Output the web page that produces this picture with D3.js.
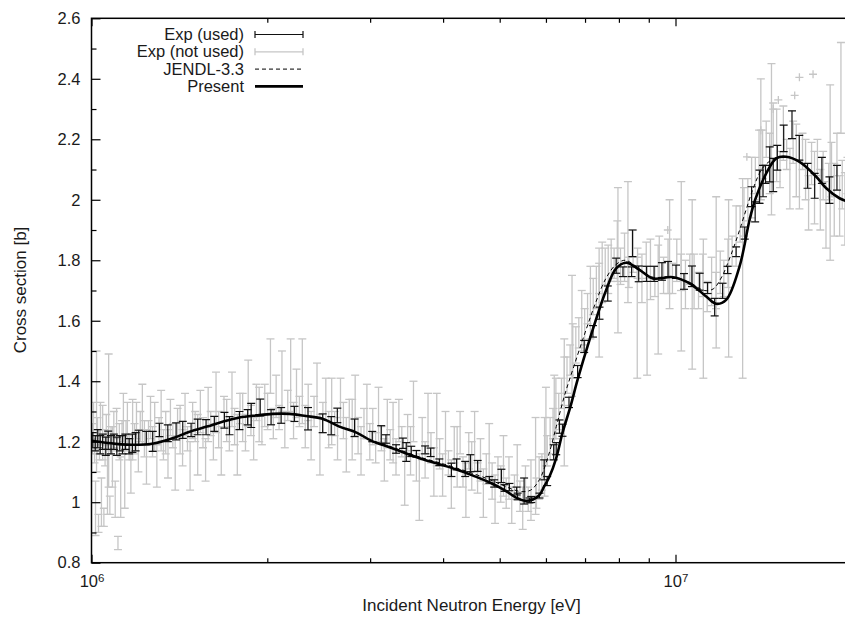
<!DOCTYPE html>
<html>
<head>
<meta charset="utf-8">
<script src="https://cdn.jsdelivr.net/npm/d3@7"></script>
<style>
  html, body { margin: 0; padding: 0; background: #fff; }
  svg { display: block; font-family: "Liberation Sans", Arial, Helvetica, sans-serif; }
</style>
</head>
<body>
<svg id="chart" width="845" height="619"></svg>
<script>
// ---- Axis ticks and labels ----
const yTickValues = [0.8, 1.0, 1.2, 1.4, 1.6, 1.8, 2.0, 2.2, 2.4, 2.6];
const yTickLabels = ["0.8", "1", "1.2", "1.4", "1.6", "1.8", "2", "2.2", "2.4", "2.6"];
const yMinorTicks = [0.9, 1.1, 1.3, 1.5, 1.7, 1.9, 2.1, 2.3, 2.5];
const xMajorTicks = [1e6, 1e7];
const xMajorExponents = ["6", "7"];
const xMinorTicks = [2e6, 3e6, 4e6, 5e6, 6e6, 7e6, 8e6, 9e6, 2e7];

// ---- Evaluated curves (energy in MeV, cross section in b) ----
const presentEnergy = [1.0, 1.1, 1.208, 1.292, 1.38, 1.472, 1.576, 1.676, 1.792, 1.917, 2.043, 2.183, 2.328, 2.486, 2.658, 2.843, 3.03, 3.238, 3.45, 3.694, 3.95, 4.218, 4.5, 4.8, 5.127, 5.333, 5.517, 5.702, 5.849, 5.958, 6.085, 6.248, 6.404, 6.608, 6.798, 7.125, 7.609, 7.914, 8.233, 8.677, 9.145, 9.894, 10.57, 11.29, 11.74, 12.21, 12.87, 13.39, 13.69, 14.30, 14.88, 15.47, 16.31, 17.42, 18.12, 19.09, 20.0];
const presentSigma = [1.203, 1.193, 1.190, 1.196, 1.212, 1.233, 1.250, 1.266, 1.280, 1.287, 1.292, 1.292, 1.285, 1.276, 1.250, 1.230, 1.201, 1.182, 1.162, 1.142, 1.125, 1.108, 1.088, 1.066, 1.037, 1.015, 1.005, 1.009, 1.024, 1.052, 1.085, 1.146, 1.229, 1.316, 1.405, 1.537, 1.702, 1.773, 1.792, 1.768, 1.740, 1.744, 1.724, 1.680, 1.656, 1.669, 1.779, 1.933, 2.000, 2.087, 2.137, 2.142, 2.125, 2.076, 2.038, 2.005, 1.990];

const jendlEnergy = [1.0, 1.1, 1.208, 1.292, 1.38, 1.472, 1.576, 1.676, 1.792, 1.917, 2.043, 2.183, 2.328, 2.486, 2.658, 2.843, 3.03, 3.238, 3.45, 3.694, 3.95, 4.218, 4.5, 4.8, 5.05, 5.25, 5.45, 5.65, 5.85, 6.05, 6.25, 6.45, 6.7, 7.0, 7.3, 7.6, 7.9, 8.2, 8.6, 9.1, 9.9, 10.6, 11.2, 11.6, 12.0, 12.4, 12.8, 13.2, 13.6, 14.1, 14.8, 15.5, 16.31, 17.42, 18.12, 19.09, 20.0];
const jendlSigma = [1.203, 1.193, 1.190, 1.196, 1.212, 1.233, 1.250, 1.266, 1.280, 1.287, 1.292, 1.292, 1.285, 1.276, 1.250, 1.230, 1.203, 1.185, 1.166, 1.146, 1.130, 1.113, 1.095, 1.075, 1.057, 1.043, 1.035, 1.040, 1.075, 1.150, 1.250, 1.350, 1.450, 1.560, 1.660, 1.740, 1.785, 1.800, 1.777, 1.745, 1.745, 1.725, 1.700, 1.705, 1.745, 1.810, 1.885, 1.965, 2.040, 2.105, 2.138, 2.142, 2.125, 2.076, 2.038, 2.005, 1.990];

// ---- Experimental data used in the fit: [energy MeV, sigma b, error b] ----
const expUsed = [
  [1.005,1.205,0.025],[1.015,1.195,0.025],[1.025,1.210,0.030],[1.035,1.190,0.030],
  [1.045,1.200,0.025],[1.058,1.185,0.030],[1.068,1.205,0.030],[1.080,1.190,0.030],
  [1.092,1.200,0.025],[1.105,1.185,0.030],[1.118,1.195,0.025],[1.130,1.190,0.030],
  [1.143,1.200,0.025],[1.160,1.185,0.025],[1.175,1.195,0.030],[1.190,1.200,0.030],
  [1.205,1.214,0.024],[1.241,1.212,0.022],[1.273,1.201,0.033],[1.307,1.239,0.022],
  [1.351,1.228,0.028],[1.396,1.234,0.028],[1.433,1.239,0.028],[1.481,1.239,0.022],
  [1.520,1.249,0.026],[1.571,1.248,0.025],[1.623,1.259,0.025],[1.689,1.271,0.026],
  [1.723,1.253,0.030],[1.792,1.270,0.030],[1.851,1.281,0.025],[1.877,1.287,0.040],
  [1.945,1.313,0.028],[2.030,1.281,0.025],[2.112,1.287,0.026],[2.226,1.292,0.025],
  [2.348,1.276,0.037],[2.488,1.261,0.031],[2.573,1.253,0.030],[2.636,1.287,0.024],
  [2.821,1.246,0.029],[3.025,1.217,0.017],[3.134,1.224,0.029],[3.193,1.209,0.014],
  [3.323,1.176,0.014],[3.414,1.195,0.017],[3.459,1.166,0.031],[3.528,1.168,0.017],
  [3.600,1.160,0.011],[3.726,1.173,0.013],[3.808,1.165,0.014],[3.941,1.132,0.011],
  [4.133,1.107,0.022],[4.218,1.125,0.018],[4.364,1.110,0.025],[4.454,1.129,0.028],
  [4.584,1.120,0.018],[4.800,1.074,0.011],[4.892,1.062,0.012],[5.034,1.087,0.022],
  [5.097,1.047,0.011],[5.195,1.050,0.012],[5.345,1.037,0.013],[5.366,1.019,0.011],
  [5.505,1.037,0.043],[5.623,1.006,0.008],[5.662,1.009,0.010],[5.849,1.022,0.008],
  [5.958,1.107,0.033],[6.029,1.070,0.015],[6.186,1.165,0.025],[6.248,1.177,0.020],
  [6.329,1.250,0.022],[6.404,1.238,0.020],[6.571,1.330,0.017],[6.798,1.432,0.020],
  [6.976,1.515,0.020],[7.222,1.565,0.019],[7.411,1.625,0.020],[7.656,1.690,0.025],
  [7.914,1.782,0.025],[8.130,1.762,0.016],[8.410,1.762,0.016],[8.440,1.856,0.044],
  [8.650,1.755,0.026],[8.920,1.755,0.025],[9.190,1.755,0.025],[9.480,1.763,0.029],
  [9.710,1.770,0.026],[10.02,1.762,0.022],[10.34,1.730,0.026],[10.67,1.747,0.034],
  [11.00,1.729,0.028],[11.35,1.708,0.018],[11.67,1.645,0.029],[12.04,1.699,0.025],
  [12.28,1.768,0.012],[12.70,1.828,0.016],[13.14,1.890,0.020],[13.50,2.010,0.033],
  [13.69,1.960,0.033],[13.93,2.043,0.055],[14.12,2.062,0.052],[14.26,2.084,0.030],
  [14.50,2.117,0.058],[14.70,2.082,0.055],[14.94,2.139,0.041],[15.32,2.203,0.044],
  [15.83,2.248,0.046],[16.29,2.172,0.041],[16.83,2.079,0.041],[17.31,2.046,0.041],
  [17.81,2.097,0.043],[18.35,2.032,0.044],[18.90,2.073,0.041]
];

// ---- Experimental data not used in the fit: [energy MeV, sigma b, error b] ----
const expNotUsed = [
  [1.003,1.21,0.05],[1.008,1.25,0.08],[1.012,1.17,0.04],[1.016,0.98,0.09],[1.020,1.30,0.20],
  [1.024,1.22,0.06],[1.028,0.93,0.03],[1.032,1.19,0.05],[1.036,1.26,0.07],[1.040,1.00,0.08],
  [1.045,1.23,0.09],[1.050,0.95,0.03],[1.055,1.18,0.06],[1.060,1.24,0.05],[1.065,1.06,0.10],
  [1.070,1.27,0.22],[1.075,0.99,0.03],[1.080,1.21,0.04],[1.086,1.15,0.10],[1.092,1.24,0.06],
  [1.098,1.01,0.06],[1.104,1.26,0.05],[1.110,0.865,0.022],[1.116,1.20,0.06],[1.122,1.05,0.10],
  [1.128,1.23,0.04],[1.134,1.28,0.08],[1.140,1.10,0.12],[1.146,1.22,0.05],[1.152,1.26,0.07],
  [1.160,1.18,0.04],[1.168,1.12,0.09],[1.176,1.24,0.10],[1.185,1.21,0.05],[1.194,1.27,0.06],
  [1.203,1.17,0.07],[1.212,1.25,0.05],[1.222,1.29,0.10],[1.232,1.21,0.06],[1.242,1.15,0.09],
  [1.252,1.23,0.04],[1.262,1.28,0.07],[1.272,1.20,0.05],[1.283,1.25,0.08],[1.294,1.12,0.07],
  [1.305,1.24,0.04],[1.316,1.27,0.10],[1.328,1.19,0.05],[1.340,1.23,0.07],[1.352,1.16,0.08],
  [1.365,1.28,0.06],[1.378,1.22,0.04],[1.391,1.13,0.09],[1.404,1.26,0.05],[1.418,1.24,0.08],
  [1.432,1.18,0.06],[1.446,1.29,0.07],[1.460,1.21,0.04],[1.475,1.12,0.08],[1.490,1.27,0.06],
  [1.505,1.25,0.05],[1.520,1.19,0.10],[1.536,1.30,0.07],[1.552,1.23,0.05],[1.568,1.14,0.07],
  [1.584,1.29,0.09],[1.600,1.26,0.04],[1.617,1.20,0.06],[1.634,1.33,0.10],[1.651,1.24,0.06],
  [1.668,1.17,0.08],[1.686,1.30,0.05],[1.704,1.27,0.07],[1.722,1.22,0.05],[1.740,1.34,0.09],
  [1.758,1.25,0.06],[1.777,1.19,0.10],[1.796,1.31,0.05],[1.815,1.28,0.08],[1.835,1.23,0.06],
  [1.855,1.36,0.11],[1.875,1.27,0.05],[1.895,1.21,0.07],[1.916,1.33,0.06],[1.937,1.29,0.09],
  [1.958,1.24,0.05],[1.980,1.32,0.07],[2.002,1.30,0.06],[2.025,1.45,0.09],[2.048,1.26,0.05],
  [2.071,1.35,0.07],[2.095,1.28,0.04],[2.119,1.40,0.10],[2.143,1.24,0.06],[2.168,1.32,0.05],
  [2.193,1.42,0.12],[2.218,1.27,0.06],[2.244,1.36,0.08],[2.270,1.30,0.05],[2.296,1.40,0.14],
  [2.323,1.25,0.07],[2.350,1.33,0.06],[2.377,1.22,0.08],[2.405,1.30,0.05],[2.433,1.37,0.09],
  [2.461,1.19,0.10],[2.490,1.28,0.05],[2.519,1.34,0.07],[2.548,1.24,0.06],[2.578,1.30,0.11],
  [2.608,1.26,0.04],[2.638,1.21,0.07],[2.669,1.33,0.08],[2.700,1.27,0.06],[2.731,1.19,0.09],
  [2.763,1.29,0.05],[2.795,1.24,0.10],[2.828,1.32,0.10],[2.861,1.22,0.06],[2.894,1.17,0.08],
  [2.928,1.26,0.05],[2.962,1.30,0.09],[2.996,1.20,0.06],[3.031,1.25,0.06],[3.066,1.18,0.05],
  [3.101,1.29,0.09],[3.137,1.21,0.04],[3.173,1.14,0.07],[3.210,1.26,0.08],[3.247,1.19,0.05],
  [3.284,1.23,0.10],[3.322,1.15,0.06],[3.360,1.27,0.07],[3.399,1.20,0.05],[3.438,1.08,0.09],
  [3.478,1.23,0.06],[3.518,1.17,0.08],[3.559,1.30,0.10],[3.600,1.12,0.05],[3.642,1.05,0.11],
  [3.684,1.21,0.07],[3.726,1.14,0.06],[3.769,1.26,0.10],[3.813,1.18,0.05],[3.857,1.10,0.08],
  [3.901,1.24,0.12],[3.946,1.16,0.05],[3.992,1.09,0.07],[4.038,1.21,0.09],[4.085,1.13,0.04],
  [4.132,1.06,0.08],[4.180,1.19,0.06],[4.228,1.15,0.10],[4.277,1.23,0.07],[4.326,1.10,0.05],
  [4.376,1.04,0.09],[4.426,1.17,0.06],[4.478,1.12,0.08],[4.529,1.20,0.10],[4.582,1.08,0.05],
  [4.635,1.14,0.07],[4.688,1.03,0.08],[4.742,1.11,0.05],[4.797,1.17,0.09],[4.853,1.07,0.06],
  [4.909,1.01,0.08],[4.966,1.10,0.05],[5.020,1.06,0.06],[5.075,1.12,0.10],[5.130,1.03,0.05],
  [5.186,1.08,0.07],[5.243,0.99,0.06],[5.300,1.05,0.04],[5.358,1.10,0.09],[5.416,1.02,0.05],
  [5.475,0.98,0.07],[5.535,1.06,0.06],[5.595,1.01,0.04],[5.656,1.04,0.10],[5.760,1.12,0.16],
  [5.779,1.03,0.05],[5.842,1.08,0.07],[5.905,1.10,0.06],[5.968,1.15,0.13],[6.000,1.25,0.13],
  [6.030,1.17,0.05],[6.100,1.21,0.07],[6.170,1.26,0.05],[6.200,1.29,0.13],[6.240,1.31,0.10],
  [6.310,1.30,0.06],[6.380,1.36,0.05],[6.450,1.33,0.21],[6.450,1.40,0.08],[6.520,1.42,0.06],
  [6.600,1.47,0.05],[6.650,1.55,0.20],[6.670,1.50,0.09],[6.750,1.52,0.06],[6.830,1.56,0.05],
  [6.910,1.60,0.10],[6.990,1.58,0.06],[7.070,1.64,0.05],[7.150,1.66,0.12],[7.230,1.68,0.06],
  [7.320,1.71,0.07],[7.400,1.66,0.18],[7.400,1.74,0.05],[7.490,1.76,0.10],[7.580,1.78,0.06],
  [7.670,1.77,0.08],[7.760,1.80,0.07],[7.850,1.79,0.05],[7.950,1.83,0.10],[7.970,1.80,0.24],
  [8.050,1.78,0.06],[8.180,1.81,0.08],[8.290,1.86,0.20],[8.320,1.76,0.05],[8.460,1.83,0.07],
  [8.600,1.61,0.20],[8.610,1.79,0.05],[8.760,1.74,0.08],[8.910,1.80,0.06],[8.940,1.60,0.18],
  [9.060,1.77,0.10],[9.220,1.73,0.05],[9.340,1.67,0.18],[9.380,1.81,0.07],[9.540,1.75,0.06],
  [9.710,1.78,0.09],[9.770,1.82,0.18],[9.880,1.74,0.05],[10.05,1.80,0.07],[10.22,1.76,0.06],
  [10.23,1.78,0.28],[10.40,1.72,0.08],[10.58,1.77,0.05],[10.68,1.72,0.28],[10.76,1.73,0.09],
  [10.95,1.70,0.06],[11.14,1.75,0.07],[11.16,1.64,0.23],[11.33,1.68,0.05],[11.53,1.73,0.08],
  [11.73,1.70,0.06],[11.74,1.76,0.25],[11.93,1.76,0.07],[12.10,1.74,0.06],[12.30,1.79,0.08],
  [12.33,1.74,0.26],[12.50,1.83,0.05],[12.70,1.88,0.10],[12.90,1.92,0.06],[13.03,1.74,0.33],
  [13.10,1.96,0.08],[13.30,2.00,0.07],[13.50,2.04,0.10],[13.70,2.08,0.06],[13.90,2.11,0.12],
  [14.00,2.20,0.20],[14.10,2.15,0.08],[14.30,2.20,0.06],[14.50,2.12,0.10],[14.60,2.20,0.25],
  [14.70,2.25,0.07],[14.90,2.18,0.12],[15.10,2.10,0.06],[15.30,2.22,0.09],[15.50,2.15,0.05],
  [15.70,2.07,0.10],[15.90,2.19,0.07],[16.10,2.13,0.12],[16.30,2.05,0.08],[16.50,2.16,0.06],
  [16.70,2.10,0.10],[16.90,1.99,0.09],[17.10,2.12,0.07],[17.30,2.04,0.12],[17.50,2.14,0.06],
  [17.70,2.00,0.10],[17.90,2.08,0.08],[18.10,1.95,0.11],[18.30,2.06,0.06],[18.40,2.09,0.29],
  [18.50,2.10,0.09],[18.70,2.00,0.12],[18.90,2.15,0.07],[19.10,1.98,0.10],[19.20,2.37,0.15],
  [19.30,2.05,0.08],[19.50,1.97,0.12],[19.70,2.08,0.06],[19.90,2.02,0.10]
];

// ---- Not-used points with energy resolution bars: [energy MeV, sigma b, dE MeV, dSigma b] ----
const expNotUsedCross = [
  [9.70,1.900,0.15,0.013],[13.25,2.142,0.20,0.013],[14.00,2.230,0.22,0.013],[14.70,2.300,0.23,0.013],
  [15.00,2.330,0.24,0.013],[16.00,2.345,0.25,0.013],[16.30,2.405,0.26,0.013],[17.20,2.415,0.27,0.013]
];

// ---- Layout ----
const svg = d3.select("#chart");
const plot = { left: 91.5, right: 851.3, top: 18.3, bottom: 562.7 };
const x = d3.scaleLog().domain([1e6, 2e7]).range([plot.left, plot.right]);
const y = d3.scaleLinear().domain([0.8, 2.6]).range([plot.bottom, plot.top]);
const MeV = 1e6;
const textColor = "#1a1a1a";
const grayColor = "#c6c6c6";

svg.append("defs").append("clipPath").attr("id", "plotClip")
  .append("rect")
  .attr("x", plot.left).attr("y", plot.top)
  .attr("width", plot.right - plot.left).attr("height", plot.bottom - plot.top);

const dataLayer = svg.append("g").attr("clip-path", "url(#plotClip)");

// Error bars with horizontal caps
function drawErrorBars(rows, color, width, cap) {
  const g = dataLayer.append("g").attr("stroke", color).attr("stroke-width", width).attr("fill", "none");
  const bars = g.selectAll("g").data(rows).join("g");
  bars.append("line")
    .attr("x1", d => x(d[0] * MeV)).attr("x2", d => x(d[0] * MeV))
    .attr("y1", d => y(d[1] - d[2])).attr("y2", d => y(d[1] + d[2]));
  bars.append("line")
    .attr("x1", d => x(d[0] * MeV) - cap).attr("x2", d => x(d[0] * MeV) + cap)
    .attr("y1", d => y(d[1] + d[2])).attr("y2", d => y(d[1] + d[2]));
  bars.append("line")
    .attr("x1", d => x(d[0] * MeV) - cap).attr("x2", d => x(d[0] * MeV) + cap)
    .attr("y1", d => y(d[1] - d[2])).attr("y2", d => y(d[1] - d[2]));
}

drawErrorBars(expNotUsed, grayColor, 1.3, 4);

// crosses (energy and cross-section error bars)
const crossG = dataLayer.append("g").attr("stroke", grayColor).attr("stroke-width", 1.3);
const crosses = crossG.selectAll("g").data(expNotUsedCross).join("g");
crosses.append("line")
  .attr("x1", d => x((d[0] - d[2]) * MeV)).attr("x2", d => x((d[0] + d[2]) * MeV))
  .attr("y1", d => y(d[1])).attr("y2", d => y(d[1]));
crosses.append("line")
  .attr("x1", d => x(d[0] * MeV)).attr("x2", d => x(d[0] * MeV))
  .attr("y1", d => y(d[1] - d[3])).attr("y2", d => y(d[1] + d[3]));

drawErrorBars(expUsed, "#111", 1.2, 4);

// Curves
const line = d3.line()
  .x(d => x(d[0] * MeV))
  .y(d => y(d[1]))
  .curve(d3.curveCatmullRom.alpha(0.5));

dataLayer.append("path")
  .datum(d3.zip(jendlEnergy, jendlSigma))
  .attr("d", line)
  .attr("fill", "none").attr("stroke", "#000").attr("stroke-width", 1)
  .attr("stroke-dasharray", "4,3");

dataLayer.append("path")
  .datum(d3.zip(presentEnergy, presentSigma))
  .attr("d", line)
  .attr("fill", "none").attr("stroke", "#000").attr("stroke-width", 2.6)
  .attr("stroke-linejoin", "round");

// ---- Axes ----
function styleAxis(g) {
  g.select(".domain").remove();
  g.selectAll(".tick line").attr("stroke", "#000").attr("stroke-width", 1.2);
  g.selectAll("text").attr("fill", textColor).style("font-size", "16.5px")
    .style("font-family", "'Liberation Sans', Arial, sans-serif");
}

// left axis with labels
svg.append("g").attr("transform", `translate(${plot.left},0)`)
  .call(d3.axisLeft(y).tickValues(yTickValues).tickSizeInner(-9).tickSizeOuter(0).tickPadding(11)
    .tickFormat((d, i) => yTickLabels[i]))
  .call(styleAxis);
svg.append("g").attr("transform", `translate(${plot.left},0)`)
  .call(d3.axisLeft(y).tickValues(yMinorTicks).tickSizeInner(-5).tickSizeOuter(0).tickFormat(""))
  .call(styleAxis);

// bottom axis
const bottomMajor = svg.append("g").attr("transform", `translate(0,${plot.bottom})`)
  .call(d3.axisBottom(x).tickValues(xMajorTicks).tickSizeInner(-8).tickSizeOuter(0).tickPadding(13)
    .tickFormat(() => ""))
  .call(styleAxis);
bottomMajor.selectAll(".tick text").each(function (d, i) {
  const t = d3.select(this).attr("text-anchor", "middle");
  t.append("tspan").text("10");
  t.append("tspan").text(xMajorExponents[i]).attr("dy", "-0.45em").style("font-size", "11.5px");
});
svg.append("g").attr("transform", `translate(0,${plot.bottom})`)
  .call(d3.axisBottom(x).tickValues(xMinorTicks).tickSizeInner(-4.5).tickSizeOuter(0).tickFormat(""))
  .call(styleAxis);

// top axis ticks
svg.append("g").attr("transform", `translate(0,${plot.top})`)
  .call(d3.axisTop(x).tickValues(xMajorTicks).tickSizeInner(-8).tickSizeOuter(0).tickFormat(""))
  .call(styleAxis);
svg.append("g").attr("transform", `translate(0,${plot.top})`)
  .call(d3.axisTop(x).tickValues(xMinorTicks).tickSizeInner(-4.5).tickSizeOuter(0).tickFormat(""))
  .call(styleAxis);

// frame
svg.append("rect")
  .attr("x", plot.left).attr("y", plot.top)
  .attr("width", plot.right - plot.left).attr("height", plot.bottom - plot.top)
  .attr("fill", "none").attr("stroke", "#000").attr("stroke-width", 1.5);

// axis titles
svg.append("text")
  .attr("x", 471.5).attr("y", 611)
  .attr("text-anchor", "middle").attr("fill", textColor)
  .style("font-size", "17px")
  .text("Incident Neutron Energy [eV]");
svg.append("text")
  .attr("transform", "translate(26,290) rotate(-90)")
  .attr("text-anchor", "middle").attr("fill", textColor)
  .style("font-size", "17px")
  .text("Cross section [b]");

// ---- Legend ----
const legendItems = ["Exp (used)", "Exp (not used)", "JENDL-3.3", "Present"];
const legend = svg.append("g");
const rowY = i => 34.5 + i * 17.3;
legend.selectAll("text").data(legendItems).join("text")
  .attr("x", 244).attr("y", (d, i) => rowY(i) + 5.6)
  .attr("text-anchor", "end").attr("fill", textColor)
  .style("font-size", "16.5px")
  .text(d => d);

const lx1 = 255, lx2 = 303;
// Exp (used)
legend.append("path").attr("d", `M${lx1},${rowY(0)}H${lx2}M${lx1},${rowY(0) - 3.5}V${rowY(0) + 3.5}M${lx2},${rowY(0) - 3.5}V${rowY(0) + 3.5}`)
  .attr("stroke", "#111").attr("stroke-width", 1.2).attr("fill", "none");
// Exp (not used)
legend.append("path").attr("d", `M${lx1},${rowY(1)}H${lx2}M${lx1},${rowY(1) - 3.5}V${rowY(1) + 3.5}M${lx2},${rowY(1) - 3.5}V${rowY(1) + 3.5}`)
  .attr("stroke", grayColor).attr("stroke-width", 1.3).attr("fill", "none");
// JENDL-3.3
legend.append("line").attr("x1", lx1).attr("x2", lx2).attr("y1", rowY(2)).attr("y2", rowY(2))
  .attr("stroke", "#000").attr("stroke-width", 1).attr("stroke-dasharray", "4,3");
// Present
legend.append("line").attr("x1", lx1).attr("x2", lx2).attr("y1", rowY(3)).attr("y2", rowY(3))
  .attr("stroke", "#000").attr("stroke-width", 2.6);
</script>
</body>
</html>
